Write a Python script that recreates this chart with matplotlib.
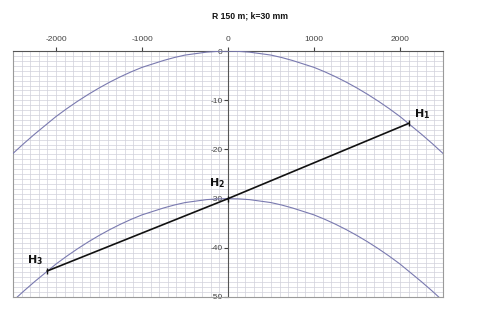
import matplotlib
matplotlib.use("Agg")
import matplotlib.pyplot as plt
from matplotlib.ticker import MultipleLocator
from matplotlib.lines import Line2D

plt.rcParams['font.family'] = ['Liberation Sans', 'DejaVu Sans']
plt.rcParams['axes.unicode_minus'] = False

title = "R 150 m; k=30 mm"

# Upper and lower curves (mm vs mm)
curve_x = [-2500, -2375, -2250, -2125, -2000, -1875, -1750, -1625, -1500, -1375,
           -1250, -1125, -1000, -875, -750, -625, -500, -375, -250, -125, 0,
           125, 250, 375, 500, 625, 750, 875, 1000, 1125, 1250, 1375, 1500,
           1625, 1750, 1875, 2000, 2125, 2250, 2375, 2500]
upper_y = [-20.8, -18.8, -16.9, -15.1, -13.3, -11.7, -10.2, -8.8, -7.5, -6.3,
           -5.2, -4.2, -3.3, -2.6, -1.9, -1.3, -0.8, -0.5, -0.2, -0.05, 0.0,
           -0.05, -0.2, -0.5, -0.8, -1.3, -1.9, -2.6, -3.3, -4.2, -5.2, -6.3, -7.5,
           -8.8, -10.2, -11.7, -13.3, -15.1, -16.9, -18.8, -20.8]
lower_y = [-50.8, -48.8, -46.9, -45.1, -43.3, -41.7, -40.2, -38.8, -37.5, -36.3,
           -35.2, -34.2, -33.3, -32.6, -31.9, -31.3, -30.8, -30.5, -30.2, -30.05, -30.0,
           -30.05, -30.2, -30.5, -30.8, -31.3, -31.9, -32.6, -33.3, -34.2, -35.2, -36.3, -37.5,
           -38.8, -40.2, -41.7, -43.3, -45.1, -46.9, -48.8, -50.8]

# Chord points H3 - H2 - H1
h_x = [-2100, 0, 2100]
h_y = [-44.7, -30.0, -14.7]
h_labels = [r'$\mathbf{H_3}$', r'$\mathbf{H_2}$', r'$\mathbf{H_1}$']
h_offsets = [(-9, 8), (-8, 11), (10, 7)]

fig = plt.figure(figsize=(5, 3.1), dpi=100)
ax = fig.add_axes([0.026, 0.042, 0.86, 0.793])

ax.set_xlim(-2500, 2500)
ax.set_ylim(-50, 0)

# grid
ax.xaxis.set_major_locator(MultipleLocator(1000))
ax.xaxis.set_minor_locator(MultipleLocator(100))
ax.yaxis.set_major_locator(MultipleLocator(10))
ax.yaxis.set_minor_locator(MultipleLocator(1))
ax.grid(which='both', color='#d0d0da', linewidth=0.5)
ax.set_axisbelow(True)

ax.plot(curve_x, upper_y, color='#7a7ab0', linewidth=0.8, zorder=3)
ax.plot(curve_x, lower_y, color='#7a7ab0', linewidth=0.8, zorder=3)
ax.plot(h_x, h_y, color='#111111', linewidth=1.2, marker='|', markersize=5,
        markeredgewidth=1.0, zorder=4)
for x, y, lab, off in zip(h_x, h_y, h_labels, h_offsets):
    ax.annotate(lab, (x, y), xytext=off, textcoords='offset points',
                ha='center', va='center', fontsize=8, color='#111111')

# axes styling
ax.xaxis.tick_top()
ax.spines['left'].set_position(('data', 0))
for s in ['left', 'top']:
    ax.spines[s].set_color('#555555')
    ax.spines[s].set_linewidth(0.8)
for s in ['right', 'bottom']:
    ax.spines[s].set_color('#9a9a9a')
    ax.spines[s].set_linewidth(0.8)
ax.add_line(Line2D([0, 0], [0, 1], transform=ax.transAxes, color='#9a9a9a',
                   linewidth=0.8, clip_on=False))

ax.tick_params(axis='x', which='major', direction='out', length=3, labelsize=6,
               colors='#444444', pad=3)
ax.tick_params(axis='x', which='minor', top=False, length=0)
ax.tick_params(axis='y', which='major', direction='out', length=3, labelsize=6,
               colors='#444444', pad=1)
ax.tick_params(axis='y', which='minor', length=0)
ax.set_xticks([-2000, -1000, 0, 1000, 2000])
ax.set_yticks([0, -10, -20, -30, -40, -50])

fig.text(0.5, 0.95, title, ha='center', va='center', fontsize=6.2,
         fontweight='bold', color='#111111')

fig.savefig('out.png', dpi=100)
